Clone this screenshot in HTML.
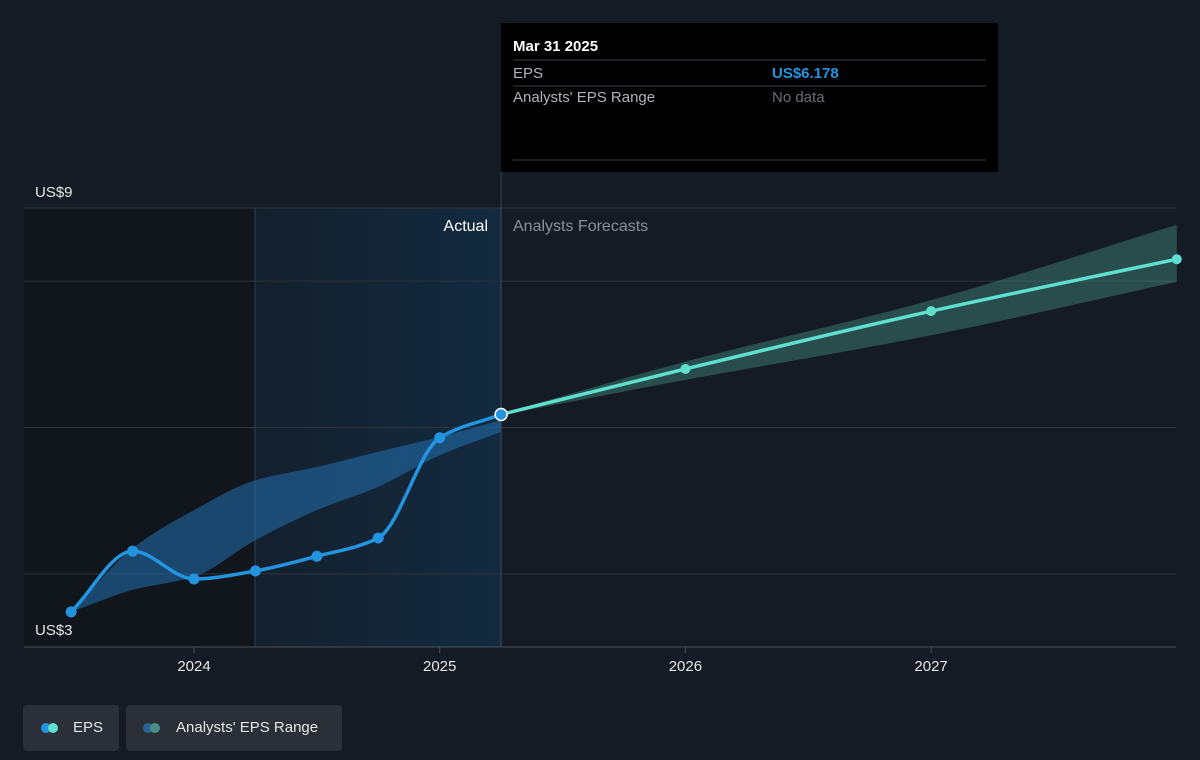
<!DOCTYPE html>
<html><head><meta charset="utf-8"><style>
body{margin:0;background:#151b24;font-family:"Liberation Sans",sans-serif;}
#wrap{position:relative;width:1200px;height:760px;overflow:hidden;background:#151b24;}
svg text{font-family:"Liberation Sans",sans-serif;}
.leg{position:absolute;top:705px;height:46px;background:#2a2f38;border-radius:4px;color:#e6e6e6;font-size:15px;line-height:46px;}
</style></head><body>
<div id="wrap">
<svg id="chart" width="1200" height="760"></svg>
<div class="leg" style="left:23px;width:96px">
 <span style="position:absolute;left:18px;top:18px;width:10px;height:10px;border-radius:5px;background:#2394df"></span>
 <span style="position:absolute;left:25px;top:18px;width:10px;height:10px;border-radius:5px;background:#5ee0d0"></span>
 <span style="position:absolute;left:50px">EPS</span></div>
<div class="leg" style="left:126px;width:216px">
 <span style="position:absolute;left:17px;top:18px;width:10px;height:10px;border-radius:5px;background:#2a6591"></span>
 <span style="position:absolute;left:24px;top:18px;width:10px;height:10px;border-radius:5px;background:#4a9088"></span>
 <span style="position:absolute;left:50px">Analysts' EPS Range</span></div>
</div>
<script>
const actualDates=[2023.5,2023.75,2024.0,2024.25,2024.5,2024.75,2025.0,2025.25];
const actualEps=[3.48,4.31,3.93,4.04,4.24,4.49,5.86,6.178];
const forecastDates=[2025.25,2026.0,2027.0,2028.0];
const forecastEps=[6.178,6.80,7.59,8.30];
const pastRangeDates=[2023.5,2023.75,2024.0,2024.25,2024.5,2024.75,2025.0,2025.25];
const pastRangeHigh=[3.48,4.35,4.87,5.28,5.46,5.67,5.87,6.10];
const pastRangeLow=[3.48,3.78,3.96,4.46,4.87,5.19,5.62,5.94];
const fcRangeDates=[2025.25,2026.0,2027.0,2028.0];
const fcRangeHigh=[6.19,6.90,7.74,8.77];
const fcRangeLow=[6.17,6.65,7.26,7.99];
const yTicks=[3,4,6,8,9];
const xTicks=[2024,2025,2026,2027];
const X=d=>194+(d-2024)*245.7;
const Y=v=>647-(v-3)*73.17;
const svg=document.getElementById('chart');const NS='http://www.w3.org/2000/svg';
function el(t,a,p){const e=document.createElementNS(NS,t);for(const k in a)e.setAttribute(k,a[k]);(p||svg).appendChild(e);return e;}
function mono(px,py){const n=px.length;const d=[],m=[];for(let i=0;i<n-1;i++)d.push((py[i+1]-py[i])/(px[i+1]-px[i]));
m[0]=d[0];m[n-1]=d[n-2];for(let i=1;i<n-1;i++){m[i]=d[i-1]*d[i]>0?2/(1/d[i-1]+1/d[i]):0;}
let s='M'+px[0]+','+py[0];for(let i=0;i<n-1;i++){const h=(px[i+1]-px[i])/3;s+=' C'+(px[i]+h)+','+(py[i]+m[i]*h)+' '+(px[i+1]-h)+','+(py[i+1]-m[i+1]*h)+' '+px[i+1]+','+py[i+1];}return s;}
let r=el('rect',{x:24,y:208,width:231,height:439,fill:'#11161d'});
const g=el('defs',{});const lg=el('linearGradient',{id:'ag',x1:0,x2:1,y1:0,y2:0},g);el('stop',{offset:0,'stop-color':'#14202c'},lg);el('stop',{offset:1,'stop-color':'#132a40'},lg);
r=el('rect',{x:255,y:208,width:246,height:439,fill:'url(#ag)'});
el('line',{x1:255,x2:255,y1:208,y2:647,stroke:'#2a4154'});
yTicks.forEach(v=>{const l=el('line',{x1:24,x2:1176,y1:Y(v),y2:Y(v),stroke:v===3?'#4a5058':'#2e343d','stroke-width':1});});
let t=el('text',{x:35,y:197,fill:'#e6e6e6','font-size':15});t.textContent='US$9';
t=el('text',{x:35,y:635,fill:'#e6e6e6','font-size':15});t.textContent='US$3';
xTicks.forEach(v=>{el('line',{x1:X(v),x2:X(v),y1:647,y2:653,stroke:'#4a5058'});const tx=el('text',{x:X(v),y:671,fill:'#e6e6e6','font-size':15,'text-anchor':'middle'});tx.textContent=v;});
function band(ds,hs,ls,fill,name){const xs=ds.map(X);const hi=hs.map(Y);const lo=ls.map(Y);
const top=mono(xs,hi);const bot=mono(xs.slice().reverse(),lo.slice().reverse()).replace(/^M/,'L');const p=el('path',{d:top+' '+bot+' Z',fill:fill});}
band(pastRangeDates,pastRangeHigh,pastRangeLow,'rgba(35,120,190,0.5)','range-band-actual');
band(fcRangeDates,fcRangeHigh,fcRangeLow,'rgba(80,170,155,0.35)','range-band-forecast');
el('line',{x1:X(2025.25),x2:X(2025.25),y1:172,y2:647,stroke:'#3a4a5a'});
t=el('text',{x:488,y:231,fill:'#ffffff','font-size':16,'text-anchor':'end'});t.textContent='Actual';
t=el('text',{x:513,y:231,fill:'#8a9099','font-size':16});t.textContent='Analysts Forecasts';
let p=el('path',{d:mono(forecastDates.map(X),forecastEps.map(Y)),fill:'none',stroke:'#5ee0d0','stroke-width':3.5});
p=el('path',{d:mono(actualDates.map(X),actualEps.map(Y)),fill:'none',stroke:'#2394df','stroke-width':3.5});
forecastDates.slice(1).forEach((d,i)=>{const c=el('circle',{cx:X(d),cy:Y(forecastEps[i+1]),r:5,fill:'#5ee0d0'});});
actualDates.forEach((d,i)=>{const last=i===actualDates.length-1;const c=el('circle',{cx:X(d),cy:Y(actualEps[i]),r:last?6:5.5,fill:'#2394df',stroke:last?'#ffffff':'none','stroke-width':1.5});});
const tg=el('g',{});
el('rect',{x:501,y:23,width:497,height:149,fill:'#000000'},tg);
function tt(x,y,s,c,w,n){const e=el('text',{x:x,y:y,fill:c,'font-size':15,'font-weight':w||'normal'},tg);e.textContent=s;}
tt(513,51,'Mar 31 2025','#ffffff','bold','tooltip-date');
el('line',{x1:513,x2:986,y1:60,y2:60,stroke:'#3a3f46'},tg);
tt(513,78,'EPS','#b0b4ba','normal','tooltip-eps-label');tt(772,78,'US$6.178','#2394df','bold','tooltip-eps-value');
el('line',{x1:513,x2:986,y1:86,y2:86,stroke:'#3a3f46'},tg);
tt(513,102,"Analysts' EPS Range",'#b0b4ba','normal','tooltip-range-label');tt(772,102,'No data','#6a6f76','normal','tooltip-range-value');
el('line',{x1:513,x2:986,y1:160,y2:160,stroke:'#3a3f46'},tg);
</script>
</body></html>
